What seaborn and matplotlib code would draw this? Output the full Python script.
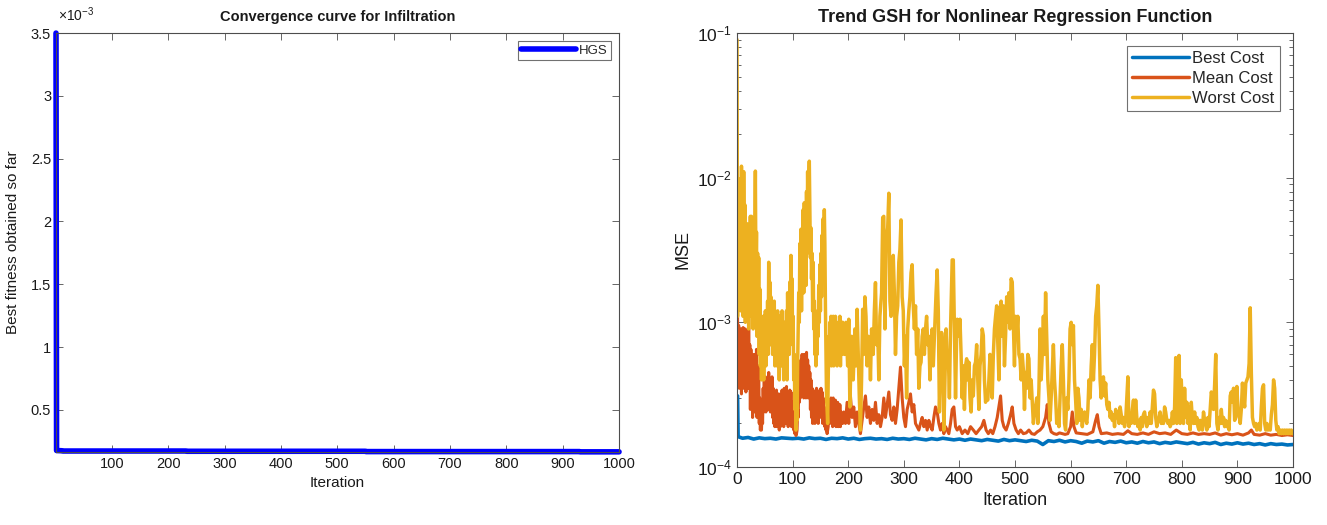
import pandas as pd
import matplotlib
matplotlib.use("Agg")
import matplotlib.pyplot as plt
import matplotlib.ticker as mticker
import seaborn as sns

# Left panel: HGS convergence curve
hgs_iter = [1, 2, 12, 13, 232, 233, 550, 551, 930, 931, 1000]
hgs_cost = [3.5e-3, 1.76e-4, 1.74e-4, 1.72e-4, 1.72e-4, 1.70e-4, 1.70e-4, 1.675e-4, 1.675e-4, 1.655e-4, 1.655e-4]

# Right panel: best / mean / worst cost per iteration
best_iter = [0, 1, 2, 10, 20, 30, 40, 50, 60, 70, 80, 90, 100,
             110, 120, 130, 140, 150, 160, 170, 180, 190, 200,
             210, 220, 230, 240, 250, 260, 270, 280, 290, 300,
             310, 320, 330, 340, 350, 360, 370, 380, 390, 400,
             410, 420, 430, 440, 450, 460, 470, 480, 490, 500,
             510, 520, 530, 540, 550, 560, 570, 580, 590, 600,
             610, 620, 630, 640, 650, 660, 670, 680, 690, 700,
             710, 720, 730, 740, 750, 760, 770, 780, 790, 800,
             810, 820, 830, 840, 850, 860, 870, 880, 890, 900,
             910, 920, 930, 940, 950, 960, 970, 980, 990, 1000]
best_cost = [3.1e-4, 3.1e-4, 1.62e-4, 1.58e-4, 1.60e-4, 1.56e-4, 1.59e-4, 1.57e-4, 1.58e-4, 1.56e-4, 1.59e-4, 1.58e-4, 1.57e-4,
             1.58e-4, 1.56e-4, 1.59e-4, 1.57e-4, 1.58e-4, 1.55e-4, 1.58e-4, 1.57e-4, 1.59e-4, 1.56e-4,
             1.58e-4, 1.55e-4, 1.57e-4, 1.58e-4, 1.56e-4, 1.57e-4, 1.55e-4, 1.58e-4, 1.56e-4, 1.57e-4,
             1.55e-4, 1.58e-4, 1.56e-4, 1.54e-4, 1.57e-4, 1.55e-4, 1.58e-4, 1.56e-4, 1.54e-4, 1.56e-4,
             1.53e-4, 1.56e-4, 1.54e-4, 1.52e-4, 1.55e-4, 1.53e-4, 1.51e-4, 1.55e-4, 1.52e-4, 1.54e-4,
             1.52e-4, 1.50e-4, 1.53e-4, 1.51e-4, 1.43e-4, 1.52e-4, 1.50e-4, 1.53e-4, 1.49e-4, 1.52e-4,
             1.50e-4, 1.46e-4, 1.51e-4, 1.49e-4, 1.52e-4, 1.46e-4, 1.50e-4, 1.48e-4, 1.51e-4, 1.47e-4,
             1.49e-4, 1.46e-4, 1.50e-4, 1.47e-4, 1.49e-4, 1.45e-4, 1.48e-4, 1.46e-4, 1.49e-4, 1.47e-4,
             1.45e-4, 1.48e-4, 1.44e-4, 1.47e-4, 1.45e-4, 1.48e-4, 1.43e-4, 1.46e-4, 1.44e-4, 1.47e-4,
             1.44e-4, 1.46e-4, 1.43e-4, 1.45e-4, 1.42e-4, 1.45e-4, 1.43e-4, 1.44e-4, 1.42e-4, 1.43e-4]

mean_iter_early = list(range(0, 190))
mean_cost_early = [
    9.0e-4, 1.1e-3, 4.0e-4, 9.5e-4, 3.5e-4, 8.5e-4, 4.5e-4, 9.0e-4, 3.2e-4, 8.0e-4,
    5.0e-4, 9.2e-4, 3.5e-4, 8.8e-4, 4.0e-4, 9.0e-4, 3.3e-4, 7.5e-4, 4.5e-4, 8.5e-4,
    3.5e-4, 9.0e-4, 4.0e-4, 7.0e-4, 2.5e-4, 6.5e-4, 3.0e-4, 6.0e-4, 2.2e-4, 5.5e-4,
    3.0e-4, 6.0e-4, 2.4e-4, 5.0e-4, 2.8e-4, 6.5e-4, 2.2e-4, 4.5e-4, 2.5e-4, 5.0e-4,
    2.0e-4, 3.0e-4, 1.8e-4, 2.6e-4, 1.8e-4, 2.4e-4, 2.0e-4, 3.5e-4, 2.4e-4, 4.0e-4,
    2.5e-4, 4.2e-4, 2.4e-4, 3.8e-4, 2.6e-4, 4.0e-4, 2.5e-4, 4.5e-4, 2.8e-4, 4.0e-4,
    2.4e-4, 3.8e-4, 2.5e-4, 4.2e-4, 2.2e-4, 3.5e-4, 2.0e-4, 3.2e-4, 1.9e-4, 3.0e-4,
    2.0e-4, 3.4e-4, 1.9e-4, 3.0e-4, 2.0e-4, 3.2e-4, 1.8e-4, 2.6e-4, 1.9e-4, 3.0e-4,
    2.0e-4, 3.4e-4, 2.1e-4, 3.0e-4, 1.9e-4, 3.5e-4, 2.0e-4, 3.2e-4, 2.2e-4, 3.6e-4,
    2.0e-4, 3.2e-4, 1.9e-4, 3.0e-4, 2.0e-4, 3.4e-4, 2.1e-4, 3.3e-4, 1.9e-4, 2.8e-4,
    2.0e-4, 2.5e-4, 1.8e-4, 2.2e-4, 1.7e-4, 1.9e-4, 1.65e-4, 1.7e-4, 1.8e-4, 2.5e-4,
    2.2e-4, 3.5e-4, 2.8e-4, 5.0e-4, 3.0e-4, 5.5e-4, 3.2e-4, 6.0e-4, 3.5e-4, 5.5e-4,
    3.0e-4, 6.0e-4, 3.4e-4, 5.5e-4, 3.0e-4, 6.2e-4, 3.5e-4, 5.5e-4, 3.0e-4, 5.0e-4,
    3.2e-4, 4.5e-4, 2.5e-4, 4.0e-4, 2.2e-4, 3.5e-4, 2.0e-4, 3.4e-4, 2.2e-4, 3.2e-4,
    2.0e-4, 3.0e-4, 2.1e-4, 3.5e-4, 2.3e-4, 3.2e-4, 2.0e-4, 3.0e-4, 2.2e-4, 3.4e-4,
    2.4e-4, 3.5e-4, 2.2e-4, 3.3e-4, 2.0e-4, 3.0e-4, 2.1e-4, 2.6e-4, 1.9e-4, 2.2e-4,
    1.8e-4, 1.9e-4, 1.7e-4, 1.8e-4, 1.9e-4, 2.4e-4, 2.0e-4, 2.8e-4, 2.1e-4, 3.0e-4,
    2.0e-4, 2.6e-4, 1.9e-4, 3.0e-4, 2.1e-4, 2.7e-4, 2.0e-4, 2.9e-4, 1.9e-4, 2.6e-4,
    2.0e-4, 2.8e-4, 1.9e-4, 2.5e-4, 2.0e-4, 2.7e-4, 1.9e-4, 2.4e-4, 2.0e-4, 2.3e-4]

mean_iter_late = [
    190, 192, 195, 198, 201, 204, 207, 210, 213, 216, 219, 222, 225, 228, 231, 234, 237, 240, 243, 246, 249,
    252, 255, 258, 261, 264, 267, 270, 273, 276, 279, 282, 285, 288, 291, 294, 297, 300, 303, 306, 309,
    312, 315, 318, 321, 324, 327, 330, 333, 336, 339, 342, 345, 348, 351, 354, 357, 360, 363, 366, 369,
    372, 375, 378, 381, 384, 387, 390, 393, 396,
    400, 405, 410, 415, 420, 425, 430, 435, 440, 444, 448, 452, 456, 460, 464, 468, 471, 474, 477, 480,
    484, 488, 492, 495, 498, 502, 506, 510, 515, 520, 525, 530, 535, 540, 545, 550, 555, 558, 561, 565,
    570, 575, 580, 585, 590, 595, 600, 603, 606, 610, 620, 630, 640, 645, 648, 651, 655, 665, 675, 685,
    695, 703, 710, 720, 730, 740, 750, 760, 770, 780, 790, 800, 810, 820, 830, 840, 850, 860, 870, 880,
    890, 900, 910, 920, 925, 930, 940, 950, 960, 970, 980, 990, 1000]
mean_cost_late = [
    2.0e-4, 2.4e-4, 2.0e-4, 2.8e-4, 2.0e-4, 3.1e-4, 2.2e-4, 2.6e-4, 1.9e-4, 2.4e-4, 2.0e-4,
    1.7e-4, 2.1e-4, 2.6e-4, 3.1e-4, 2.2e-4, 2.6e-4, 2.0e-4, 2.5e-4, 2.1e-4, 2.8e-4,
    2.0e-4, 2.3e-4, 1.9e-4, 2.2e-4, 3.0e-4, 2.2e-4, 2.7e-4, 3.3e-4, 2.3e-4, 2.1e-4,
    2.6e-4, 2.0e-4, 2.5e-4, 3.5e-4, 4.9e-4, 3.0e-4, 2.2e-4, 1.9e-4, 2.5e-4, 2.8e-4,
    3.2e-4, 2.4e-4, 2.7e-4, 2.0e-4, 1.9e-4, 1.8e-4, 2.0e-4, 2.2e-4, 1.9e-4, 2.1e-4,
    1.8e-4, 2.1e-4, 1.9e-4, 1.8e-4, 2.2e-4, 2.6e-4, 2.4e-4, 2.0e-4, 1.8e-4, 2.0e-4,
    1.7e-4, 1.9e-4, 1.8e-4, 1.7e-4, 2.0e-4, 2.5e-4, 2.6e-4, 1.9e-4, 1.8e-4,
    1.9e-4, 1.7e-4, 1.8e-4, 1.7e-4, 1.9e-4, 1.8e-4, 1.7e-4, 1.8e-4, 1.9e-4, 2.1e-4,
    1.8e-4, 1.7e-4, 1.8e-4, 1.7e-4, 1.9e-4, 2.2e-4, 2.6e-4, 3.1e-4, 2.1e-4, 1.9e-4,
    1.8e-4, 2.0e-4, 2.3e-4, 2.6e-4, 2.0e-4, 1.8e-4, 1.7e-4, 1.8e-4, 1.7e-4, 1.72e-4,
    1.8e-4, 1.7e-4, 1.68e-4, 1.75e-4, 1.8e-4, 1.9e-4, 2.2e-4, 2.7e-4, 2.0e-4, 1.75e-4,
    1.7e-4, 1.68e-4, 1.72e-4, 1.7e-4, 1.68e-4, 1.7e-4, 1.9e-4, 2.4e-4, 1.9e-4, 1.72e-4,
    1.7e-4, 1.68e-4, 1.75e-4, 2.1e-4, 2.3e-4, 1.9e-4, 1.7e-4, 1.72e-4, 1.68e-4, 1.7e-4,
    1.68e-4, 1.78e-4, 1.7e-4, 1.68e-4, 1.72e-4, 1.68e-4, 1.75e-4, 1.7e-4, 1.72e-4, 1.68e-4,
    1.8e-4, 1.7e-4, 1.68e-4, 1.72e-4, 1.68e-4, 1.7e-4, 1.68e-4, 1.72e-4, 1.66e-4, 1.7e-4,
    1.67e-4, 1.7e-4, 1.66e-4, 1.72e-4, 1.8e-4, 1.68e-4, 1.66e-4, 1.7e-4, 1.66e-4, 1.68e-4,
    1.65e-4, 1.67e-4, 1.65e-4]

worst_iter_early = list(range(0, 190))
worst_cost_early = [
    0.090, 0.0011, 0.0060, 0.0013, 0.0070, 0.0025, 0.0098, 0.0012, 0.0120, 0.0035,
    0.0078, 0.0011, 0.0110, 0.0030, 0.0065, 0.0010, 0.0044, 0.0013, 0.0048, 0.0020,
    0.0044, 0.0009, 0.0040, 0.0012, 0.0054, 0.0016, 0.0054, 0.0011, 0.0030, 0.0009,
    0.0048, 0.0014, 0.0038, 0.0111, 0.0020, 0.0042, 0.0008, 0.0030, 0.0010, 0.0028,
    0.0006, 0.0017, 0.0005, 0.0009, 0.0004, 0.0008, 0.0005, 0.0011, 0.0004, 0.0009,
    0.0006, 0.0012, 0.0005, 0.0010, 0.0007, 0.0014, 0.0006, 0.0026, 0.0010, 0.0019,
    0.0007, 0.0015, 0.0008, 0.0013, 0.0006, 0.0012, 0.0007, 0.0014, 0.0005, 0.0011,
    0.0006, 0.0011, 0.0005, 0.0012, 0.0006, 0.0010, 0.0004, 0.0011, 0.0007, 0.0010,
    0.0005, 0.0012, 0.0006, 0.0009, 0.0004, 0.0010, 0.0005, 0.0009, 0.0006, 0.0012,
    0.0004, 0.0016, 0.0008, 0.0014, 0.0006, 0.0019, 0.0009, 0.0029, 0.0012, 0.0020,
    0.0007, 0.0011, 0.0004, 0.0006, 0.00025, 0.0004, 0.00018, 0.0003, 0.00021, 0.0005,
    0.0009, 0.0016, 0.0010, 0.0035, 0.0015, 0.0044, 0.0012, 0.0038, 0.0020, 0.0060,
    0.0016, 0.0067, 0.0025, 0.0056, 0.0018, 0.0080, 0.0030, 0.0110, 0.0045, 0.0090,
    0.0130, 0.0060, 0.0028, 0.0045, 0.0020, 0.0030, 0.0012, 0.0026, 0.0009, 0.0014,
    0.0006, 0.0011, 0.0005, 0.0009, 0.0006, 0.0012, 0.0008, 0.0018, 0.0010, 0.0025,
    0.0012, 0.0030, 0.0015, 0.0040, 0.0020, 0.0052, 0.0022, 0.0060, 0.0035, 0.0013,
    0.0006, 0.0003, 0.00025, 0.0002, 0.0004, 0.0008, 0.0005, 0.0010, 0.0006, 0.0011,
    0.0005, 0.0009, 0.0006, 0.0011, 0.0005, 0.0010, 0.0007, 0.0011, 0.0006, 0.0010,
    0.0005, 0.0009, 0.0006, 0.0010, 0.0007, 0.0011, 0.0005, 0.0009, 0.0006, 0.0010]

worst_iter_late = [
    190, 193, 196, 199, 201, 203, 206, 209, 212, 214, 216, 218, 220, 222, 224, 226, 228, 230, 232, 234,
    236, 238, 240, 242, 245, 247, 249, 251, 253, 255, 257, 260, 262, 264, 266, 268, 271, 273, 275, 277,
    279, 281, 283, 285, 287, 289, 291, 293, 295, 297, 299, 301, 303, 305, 307, 309, 311, 313, 315, 317,
    319, 321, 323, 325, 327, 329, 331, 333, 335, 337, 339, 341, 343, 345, 347, 349, 351, 353, 355, 358,
    360, 362, 364, 366, 368, 370, 372, 374, 376, 378, 380, 382, 384, 387, 389, 391, 393, 395, 396, 399,
    401, 403, 405, 407, 409, 411, 413, 415, 417, 419, 421, 423, 425, 427, 429, 431, 433, 435, 437, 439,
    441, 443, 445, 447, 449, 451, 453, 455, 457, 459, 461, 463, 465, 467, 469, 471, 473, 475, 477, 479,
    481, 483, 485, 487, 489, 491, 493, 495, 497, 499, 501, 503, 505, 507, 509, 511, 513, 515, 517, 519,
    521, 523, 525, 527, 529, 531, 533, 535, 537, 539, 541, 543, 545, 547, 549, 551, 553, 555, 557, 559,
    561, 563, 565, 567, 569, 571, 573, 575, 577, 579, 581, 583, 585, 587, 589, 591, 593, 595, 597, 599,
    601, 603, 605, 607, 609, 611, 613, 615, 617, 619, 621, 623, 625, 627, 629, 631, 633, 635, 637, 639,
    641, 643, 645, 647, 649, 651, 653, 655, 657, 659, 661, 663, 665, 667, 669, 671, 673, 675, 677, 679,
    681, 683, 685, 687, 689, 691, 693, 695, 697, 699, 701, 703, 705, 707, 709, 711, 713, 715, 717, 719,
    721, 723, 725, 727, 729, 731, 733, 735, 737, 739, 741, 743, 745, 747, 749, 751, 753, 755, 757, 759,
    761, 763, 765, 767, 769, 771, 773, 775, 777, 779, 781, 783, 785, 787, 789, 791, 793, 795, 797, 799,
    801, 803, 805, 807, 809, 811, 813, 815, 817, 819, 821, 823, 825, 827, 829, 831, 833, 835, 837, 839,
    841, 843, 845, 847, 849, 851, 853, 855, 857, 859, 861, 863, 865, 867, 869, 871, 873, 875, 877, 879,
    881, 883, 885, 887, 889, 891, 893, 895, 897, 899, 901, 903, 905, 907, 909, 911, 913, 915, 917, 919,
    921, 923, 925, 927, 929, 931, 933, 935, 937, 939, 941, 943, 945, 947, 949, 951, 953, 955, 957, 959,
    961, 963, 965, 967, 969, 971, 973, 975, 977, 979, 981, 983, 985, 987, 989, 991, 993, 995, 997, 999, 1000]
worst_cost_late = [
    0.0010, 0.0006, 0.0010, 0.0005, 0.00105, 0.00026, 0.0008, 0.0004, 0.0009, 0.0005,
    0.00123, 0.0006, 0.0003, 0.00018, 0.0004, 0.00123, 0.0006, 0.0015, 0.0011, 0.0005,
    0.0008, 0.00076, 0.0004, 0.0009, 0.0006, 0.0012, 0.00188, 0.0007, 0.0009, 0.0004,
    0.0011, 0.0016, 0.0053, 0.0054, 0.0009, 0.0035, 0.0045, 0.0078, 0.0014, 0.0011,
    0.0013, 0.0029, 0.0016, 0.0006, 0.0011, 0.0013, 0.0026, 0.0032, 0.0051, 0.0015,
    0.0012, 0.0005, 0.0008, 0.0003, 0.0009, 0.0012, 0.0015, 0.0022, 0.0025, 0.0013,
    0.0009, 0.0013, 0.0006, 0.0009, 0.00035, 0.0005, 0.00053, 0.0008, 0.0009, 0.0006,
    0.0009, 0.0011, 0.0007, 0.0008, 0.0004, 0.0007, 0.0009, 0.0005, 0.0008, 0.0016,
    0.0023, 0.0012, 0.00024, 0.0005, 0.00085, 0.0007, 0.00018, 0.0004, 0.0009, 0.0005,
    0.0006, 0.0003, 0.0009, 0.0027, 0.0027, 0.0009, 0.0003, 0.0008, 0.00105, 0.0008,
    0.00105, 0.0006, 0.0003, 0.0005, 0.00025, 0.0005, 0.00056, 0.0004, 0.00053, 0.0003,
    0.00024, 0.0004, 0.00031, 0.0005, 0.00053, 0.0007, 0.0004, 0.00025, 0.0005, 0.0006,
    0.0009, 0.00081, 0.0004, 0.00028, 0.0003, 0.00029, 0.0004, 0.0006, 0.00045, 0.0003,
    0.0006, 0.0009, 0.0011, 0.0013, 0.0007, 0.0004, 0.0012, 0.0014, 0.0008, 0.0013,
    0.0005, 0.0008, 0.0015, 0.0010, 0.0016, 0.0009, 0.0020, 0.0019, 0.0010, 0.0005,
    0.0011, 0.0008, 0.0011, 0.0006, 0.00056, 0.0004, 0.0006, 0.00047, 0.00025, 0.00045,
    0.00035, 0.0006, 0.00056, 0.0003, 0.0004, 0.00028, 0.0002, 0.00024, 0.00026, 0.0003,
    0.0002, 0.00035, 0.0009, 0.0004, 0.0006, 0.0011, 0.0006, 0.0016, 0.0008, 0.0004,
    0.0003, 0.00021, 0.0003, 0.00047, 0.0007, 0.0004, 0.0003, 0.0002, 0.00024, 0.00019,
    0.0003, 0.0005, 0.0007, 0.0004, 0.0002, 0.00018, 0.0003, 0.00025, 0.0004, 0.0009,
    0.0010, 0.0007, 0.00095, 0.0004, 0.00029, 0.0002, 0.00035, 0.0003, 0.00021, 0.00025,
    0.00019, 0.00023, 0.00024, 0.00022, 0.0002, 0.00025, 0.0004, 0.0003, 0.0005, 0.0007,
    0.0004, 0.0006, 0.0011, 0.0013, 0.0018, 0.0009, 0.0004, 0.0003, 0.00038, 0.00042,
    0.00031, 0.00038, 0.00027, 0.00025, 0.00028, 0.00022, 0.00024, 0.00021, 0.00023, 0.00019,
    0.00025, 0.00022, 0.00024, 0.0002, 0.00026, 0.00023, 0.0002, 0.00022, 0.00019, 0.00021,
    0.0003, 0.00042, 0.00019, 0.00022, 0.0002, 0.00025, 0.00029, 0.0002, 0.00029, 0.00022,
    0.00019, 0.00021, 0.00018, 0.00022, 0.00019, 0.00023, 0.00024, 0.00021, 0.00019, 0.00022,
    0.0002, 0.00024, 0.0002, 0.00026, 0.00034, 0.00032, 0.00022, 0.00019, 0.00021, 0.00022,
    0.00024, 0.0002, 0.00021, 0.0002, 0.00026, 0.00024, 0.00021, 0.0002, 0.00021, 0.00019,
    0.0002, 0.00024, 0.0002, 0.00026, 0.00057, 0.0002, 0.00035, 0.00059, 0.0002, 0.0004,
    0.00025, 0.0002, 0.00035, 0.00022, 0.00028, 0.0002, 0.00026, 0.00018, 0.00028, 0.00021,
    0.0002, 0.00024, 0.0002, 0.00022, 0.00019, 0.00018, 0.00021, 0.0002, 0.00018, 0.00024,
    0.00021, 0.0002, 0.00018, 0.00022, 0.00019, 0.00025, 0.00033, 0.00031, 0.00025, 0.00037,
    0.0006, 0.0002, 0.00018, 0.00022, 0.0002, 0.00025, 0.0002, 0.00022, 0.00019, 0.00021,
    0.00019, 0.0002, 0.00018, 0.00031, 0.00033, 0.00028, 0.00035, 0.00021, 0.00022, 0.00036,
    0.00025, 0.00023, 0.0002, 0.00025, 0.00038, 0.0003, 0.00026, 0.00038, 0.0004, 0.00042,
    0.00052, 0.00126, 0.00045, 0.00022, 0.0002, 0.00019, 0.0002, 0.00018, 0.00019, 0.0002,
    0.00018, 0.00026, 0.00035, 0.00037, 0.0002, 0.00018, 0.0002, 0.00018, 0.00019, 0.00018,
    0.00023, 0.00027, 0.0004, 0.00035, 0.00021, 0.00018, 0.00019, 0.00017, 0.00018, 0.00017,
    0.00018, 0.00017, 0.00018, 0.00017, 0.00018, 0.00017, 0.00018, 0.00017, 0.00018, 0.00017, 0.00017]

series_names = ["Best Cost", "Mean Cost", "Worst Cost"]
series_colors = ["#0072BD", "#D95319", "#EDB120"]
series_widths = [2.6, 2.2, 2.5]

sns.set_style("ticks")
plt.rcParams["font.family"] = ["Liberation Sans", "DejaVu Sans"]
plt.rcParams["mathtext.fontset"] = "custom"
plt.rcParams["mathtext.rm"] = "Liberation Sans"
plt.rcParams["mathtext.it"] = "Liberation Sans:italic"
plt.rcParams["mathtext.bf"] = "Liberation Sans:bold"

frame_col = "#4d4d4d"
text_col = "#1a1a1a"

fig = plt.figure(figsize=(13.27, 5.25), dpi=100)
ax1 = fig.add_axes([0.0422, 0.139, 0.4243, 0.798])
ax2 = fig.add_axes([0.5554, 0.1105, 0.419, 0.8267])

# ---- left panel
df_hgs = pd.DataFrame({"Iteration": hgs_iter, "Cost": hgs_cost, "Algo": "HGS"})
sns.lineplot(data=df_hgs, x="Iteration", y="Cost", hue="Algo", palette=["#0000FF"],
             linewidth=4.0, estimator=None, sort=False, ax=ax1)
for line in ax1.get_lines():
    line.set_clip_on(False)
ax1.set_xlim(1, 1000)
ax1.set_ylim(1.64e-4, 3.5e-3)
ax1.set_xticks(range(100, 1001, 100))
ax1.set_yticks([0.5e-3, 1e-3, 1.5e-3, 2e-3, 2.5e-3, 3e-3, 3.5e-3])
ax1.yaxis.set_major_formatter(mticker.FuncFormatter(lambda v, _: f"{v * 1e3:g}"))
ax1.text(0.003, 1.022, r"$\times 10^{-3}$", transform=ax1.transAxes, fontsize=10,
         ha="left", va="bottom", color=text_col)
ax1.set_title("Convergence curve for Infiltration", fontsize=10.5, fontweight="bold", pad=9, color=text_col)
ax1.set_xlabel("Iteration", fontsize=11, color=text_col)
ax1.set_ylabel("Best fitness obtained so far", fontsize=11, color=text_col, labelpad=8)
leg1 = ax1.legend(loc="upper right", fontsize=9.5, frameon=True, fancybox=False,
                  handlelength=4.2, borderpad=0.25, handletextpad=0.2, borderaxespad=0.6)
leg1.get_frame().set_edgecolor(frame_col)
leg1.get_frame().set_linewidth(0.8)
for h in leg1.get_lines():
    h.set_linewidth(4)

# ---- right panel
df_best = pd.DataFrame({"Iteration": best_iter, "Cost": best_cost, "Series": series_names[0]})
df_mean = pd.DataFrame({"Iteration": mean_iter_early + mean_iter_late,
                        "Cost": mean_cost_early + mean_cost_late, "Series": series_names[1]})
df_worst = pd.DataFrame({"Iteration": worst_iter_early + worst_iter_late,
                         "Cost": worst_cost_early + worst_cost_late, "Series": series_names[2]})
df_cost = pd.concat([df_best, df_mean, df_worst], ignore_index=True)

sns.lineplot(data=df_cost, x="Iteration", y="Cost", hue="Series", hue_order=series_names,
             palette=dict(zip(series_names, series_colors)), linewidth=2.2,
             estimator=None, ax=ax2)
for line, lw in zip(ax2.get_lines()[:3], series_widths):
    line.set_linewidth(lw)
ax2.set_yscale("log")
ax2.set_xlim(0, 1000)
ax2.set_ylim(1e-4, 1e-1)
ax2.set_xticks(range(0, 1001, 100))
ax2.yaxis.set_major_locator(mticker.LogLocator(base=10, numticks=10))
ax2.yaxis.set_minor_locator(mticker.LogLocator(base=10, subs=range(2, 10), numticks=20))
ax2.yaxis.set_minor_formatter(mticker.NullFormatter())
ax2.set_title("Trend GSH for Nonlinear Regression Function", fontsize=13, fontweight="bold",
              pad=8, color=text_col)
ax2.set_xlabel("Iteration", fontsize=13, color=text_col)
ax2.set_ylabel("MSE", fontsize=13, color=text_col, labelpad=4)
leg2 = ax2.legend(loc="upper right", fontsize=12, frameon=True, fancybox=False,
                  handlelength=3.4, borderpad=0.3, handletextpad=0.2, labelspacing=0.3,
                  borderaxespad=0.8)
leg2.get_frame().set_edgecolor(frame_col)
leg2.get_frame().set_linewidth(0.8)
for h in leg2.get_lines():
    h.set_linewidth(2.5)

for ax, fs in [(ax1, 10.5), (ax2, 12.5)]:
    for s in ax.spines.values():
        s.set_visible(True)
        s.set_color(frame_col)
        s.set_linewidth(0.8)
    ax.tick_params(which="both", direction="in", top=True, right=True, colors=frame_col,
                   labelcolor=text_col, labelsize=fs, width=0.6)
    ax.tick_params(which="major", length=5)
    ax.tick_params(which="minor", length=3)

fig.savefig("out.png", dpi=100, facecolor="white")
